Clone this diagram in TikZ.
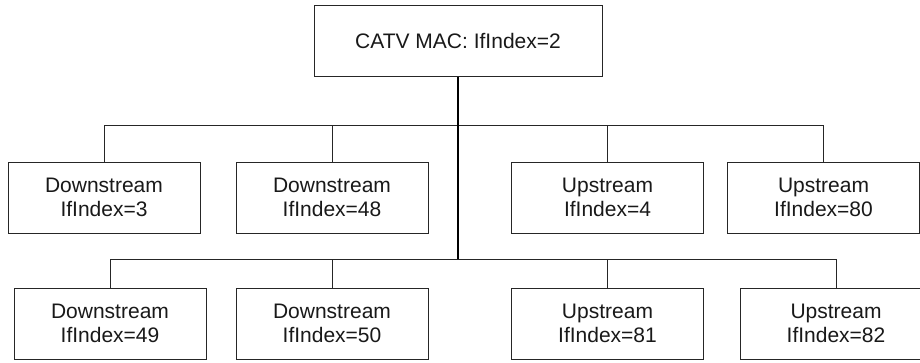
\documentclass[tikz,border=0pt]{standalone}
\usepackage{fontspec}
\setmainfont{Liberation Sans}
\begin{document}
\begin{tikzpicture}[x=0.75pt,y=-0.75pt,
  box/.style={draw=black!85,line width=0.75pt,fill=white,inner sep=0pt,
    minimum width=144pt,minimum height=53.25pt,align=center,
    font=\fontsize{15.75}{18.2}\selectfont,text=black!90},
  link/.style={draw=black!85,line width=0.75pt},
  trunk/.style={draw=black,line width=1.5pt}]
\useasboundingbox (0,0) rectangle (920,362);
\clip (0,0) rectangle (920,362);
\node[box,minimum width=216pt] (top) at (458,41.3) {CATV MAC: IfIndex=2};
\node[box] (a) at (104,197.5) {Downstream\\IfIndex=3};
\node[box] (b) at (332,197.5) {Downstream\\IfIndex=48};
\node[box] (c) at (607.5,197.5) {Upstream\\IfIndex=4};
\node[box] (d) at (823.5,197.5) {Upstream\\IfIndex=80};
\node[box] (e) at (110,323.5) {Downstream\\IfIndex=49};
\node[box] (f) at (332,323.5) {Downstream\\IfIndex=50};
\node[box] (g) at (607.5,323.5) {Upstream\\IfIndex=81};
\node[box] (h) at (836,323.5) {Upstream\\IfIndex=82};
\coordinate (j1) at (458,125);
\coordinate (j2) at (458,259);
\draw[link] (a.north) |- (j1);
\draw[link] (b.north) |- (j1);
\draw[link] (c.north) |- (j1);
\draw[link] (d.north) |- (j1);
\draw[link] (e.north) |- (j2);
\draw[link] (f.north) |- (j2);
\draw[link] (g.north) |- (j2);
\draw[link] (h.north) |- (j2);
\draw[trunk] (top.south) -- (j2);
\end{tikzpicture}
\end{document}
